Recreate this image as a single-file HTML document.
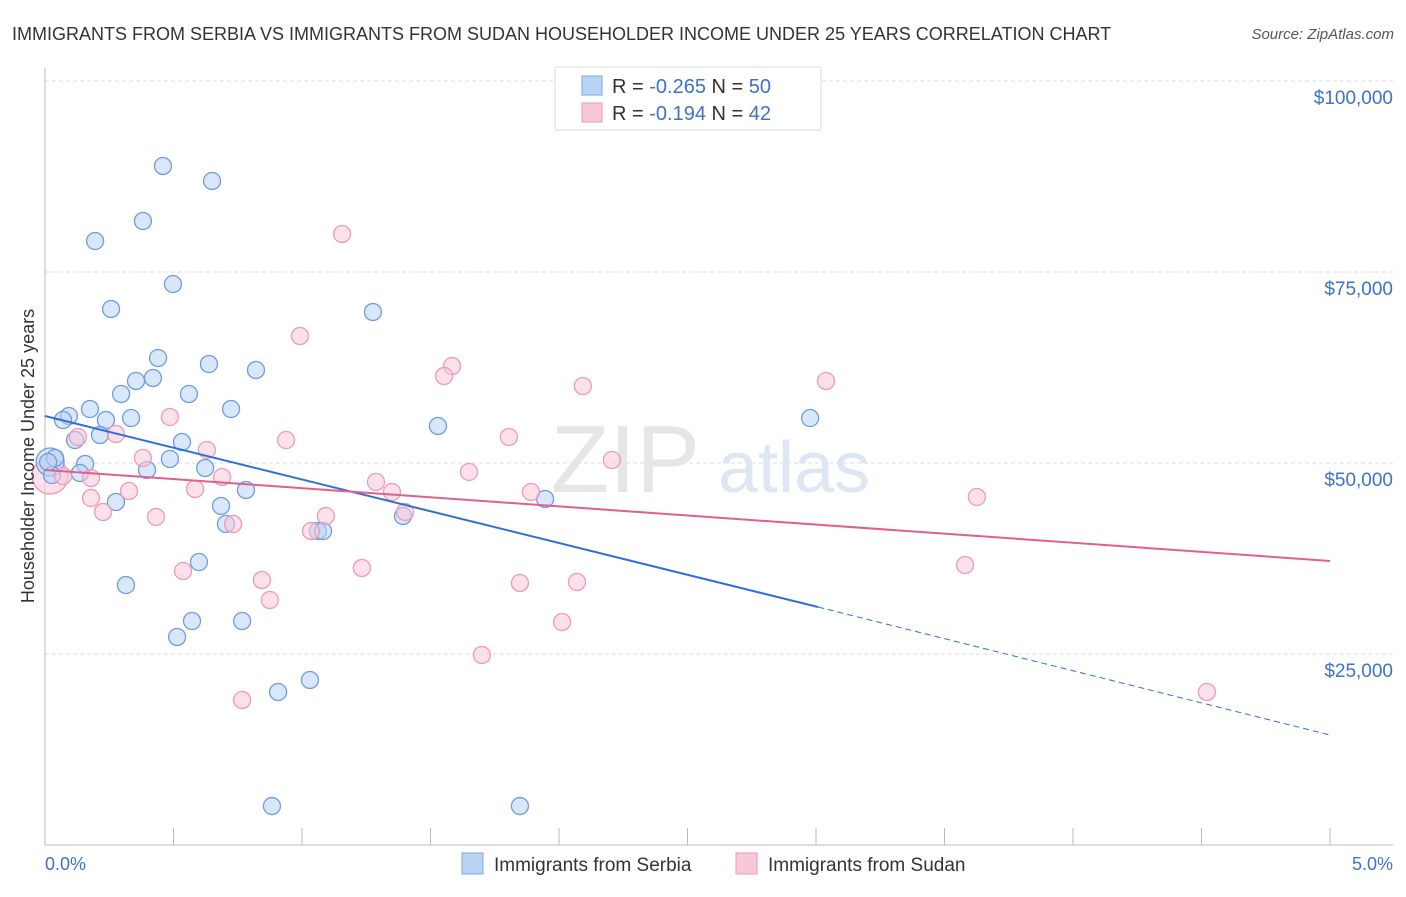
<!DOCTYPE html>
<html><head><meta charset="utf-8"><style>
body{margin:0;background:#fff;font-family:"Liberation Sans",sans-serif;}
svg text{font-family:"Liberation Sans",sans-serif;}
</style></head><body>
<svg width="1406" height="892" xmlns="http://www.w3.org/2000/svg">
<text x="12" y="40" font-size="18" fill="#333">IMMIGRANTS FROM SERBIA VS IMMIGRANTS FROM SUDAN HOUSEHOLDER INCOME UNDER 25 YEARS CORRELATION CHART</text>
<text x="1394" y="39" font-size="15" fill="#555" font-style="italic" text-anchor="end">Source: ZipAtlas.com</text>
<g id="grid"></g>
<text x="700" y="492" font-size="96" fill="#e6e6e6" font-family="Liberation Serif" text-anchor="end">ZIP</text>
<text x="718" y="492" font-size="72" fill="#dde6f3">atlas</text>
<g id="pts"></g>
<g id="lines"></g>
<text transform="translate(34,456) rotate(-90)" font-size="18" fill="#333" text-anchor="middle">Householder Income Under 25 years</text>
<text x="45" y="870" font-size="18" fill="#3b73c8">0.0%</text>
<text x="1393" y="870" font-size="18" fill="#3b73c8" text-anchor="end">5.0%</text>
<g>
<rect x="555" y="67" width="266" height="63" fill="#fff" stroke="#ddd"/>
<rect x="582" y="76" width="20" height="19" fill="#b9d3f5" stroke="#7ea6e0"/>
<rect x="582" y="103" width="20" height="19" fill="#f9c8d8" stroke="#ee9ab5"/>
<text x="612" y="93" font-size="20" fill="#333">R = <tspan fill="#3b73c8">-0.265</tspan>   N = <tspan fill="#3b73c8">50</tspan></text>
<text x="612" y="120" font-size="20" fill="#333">R =  <tspan fill="#3b73c8">-0.194</tspan>   N =  <tspan fill="#3b73c8">42</tspan></text>
</g>
<g><rect x="462" y="853" width="21" height="21" fill="#b9d3f5" stroke="#7ea6e0"/><text x="494" y="871" font-size="19" fill="#333">Immigrants from Serbia</text></g>
<g><rect x="736" y="853" width="21" height="21" fill="#f9c8d8" stroke="#ee9ab5"/><text x="768" y="871" font-size="19" fill="#333">Immigrants from Sudan</text></g>
</svg>
<script>
const yTicks=[25000,50000,75000,100000];
const yTickLabels=["$25,000","$50,000","$75,000","$100,000"];
const serbiaX=[0.459,0.650,0.381,0.195,0.498,0.257,1.276,0.440,0.638,0.821,0.420,0.354,0.296,0.560,0.724,0.175,0.093,0.070,0.335,0.237,1.529,2.977,0.214,0.117,0.533,0.486,0.039,0.156,0.623,0.397,0.136,0.276,0.685,0.782,1.946,1.393,0.704,1.062,1.082,0.599,0.315,0.572,0.767,0.514,1.031,0.907,0.883,1.848,0.027,0.012];
const serbiaY=[88880,86920,81680,79060,73430,70160,69770,63750,62960,62180,61130,60740,59040,59040,57070,57070,56160,55630,55890,55630,54850,55890,53670,53010,52750,50530,50660,49870,49350,49090,48690,44900,44380,46470,45290,43070,42020,41100,41100,37040,34030,29320,29320,27230,21600,20030,5100,5100,48430,50130];
const sudanX=[1.156,0.992,1.584,1.553,3.039,2.093,0.486,0.276,0.128,1.805,0.938,0.630,0.381,2.206,1.650,0.689,1.288,0.070,0.179,1.350,0.584,0.327,1.891,3.626,0.179,0.226,0.432,1.093,1.401,0.732,1.035,0.537,1.233,3.580,0.844,2.070,1.848,0.875,2.012,1.700,0.767,4.521];
const sudanY=[79980,66630,62700,61390,60740,60080,56030,53800,53410,53410,53010,51710,50660,50400,48830,48170,47520,48300,48040,46210,46600,46340,46210,45550,45420,43590,42940,43070,43590,42020,41100,35870,36260,36650,34690,34430,34300,32070,29190,24870,18980,20030];
const serbiaTrend=[56160,31150,14400]; // at x=0, 3.008, 5
const sudanTrend=[49090,37180]; // at x=0, 5
const NS="http://www.w3.org/2000/svg";
const X=v=>45+v*257;
const Y=v=>845-v/130.9;
function mk(tag,attrs,parent){const e=document.createElementNS(NS,tag);for(const k in attrs)e.setAttribute(k,attrs[k]);parent.appendChild(e);return e;}
const grid=document.getElementById('grid'),pts=document.getElementById('pts'),lines=document.getElementById('lines');
yTicks.forEach((t,i)=>{
 const l=mk('line',{x1:45,x2:1393,y1:Y(t),y2:Y(t),stroke:'#ddd','stroke-dasharray':'4,3'},grid);
 
 
 const tx=mk('text',{x:1393,y:Y(t)+23,'font-size':19,fill:'#3b73c8','text-anchor':'end'},grid);
 tx.textContent=yTickLabels[i];
 
 
});
const ax=mk('line',{x1:45,x2:45,y1:68,y2:845,stroke:'#bbb'},grid);


const bx=mk('line',{x1:45,x2:1393,y1:845,y2:845,stroke:'#bbb'},grid);


for(let k=0;k<=10;k++){const t=mk('line',{x1:X(k*0.5),x2:X(k*0.5),y1:828,y2:845,stroke:'#bbb'},grid);
 
 }
function dot(x,y,r,fill,stroke,name){const c=mk('circle',{cx:X(x),cy:Y(y),r:r,fill:fill,'fill-opacity':0.55,stroke:stroke,'stroke-width':1.3},pts);
 
 }
dot(0.02,48300,18,'#f9c8d8','#ee9ab5','sudan-point-large');
dot(0.02,50130,14,'#b9d3f5','#6f9be0','serbia-point-large');
serbiaX.forEach((x,i)=>dot(x,serbiaY[i],8.5,'#b9d3f5','#6f9be0','serbia-point'));
sudanX.forEach((x,i)=>dot(x,sudanY[i],8.5,'#f9c8d8','#ee9ab5','sudan-point'));
let l1=mk('line',{x1:X(0),y1:Y(serbiaTrend[0]),x2:X(3.008),y2:Y(serbiaTrend[1]),stroke:'#2f6fd6','stroke-width':2},lines);


let l2=mk('line',{x1:X(3.008),y1:Y(serbiaTrend[1]),x2:X(5),y2:Y(serbiaTrend[2]),stroke:'#2f6fd6','stroke-width':1,'stroke-dasharray':'6,4'},lines);


let l3=mk('line',{x1:X(0),y1:Y(sudanTrend[0]),x2:X(5),y2:Y(sudanTrend[1]),stroke:'#e0608a','stroke-width':2},lines);


</script>
</body></html>
